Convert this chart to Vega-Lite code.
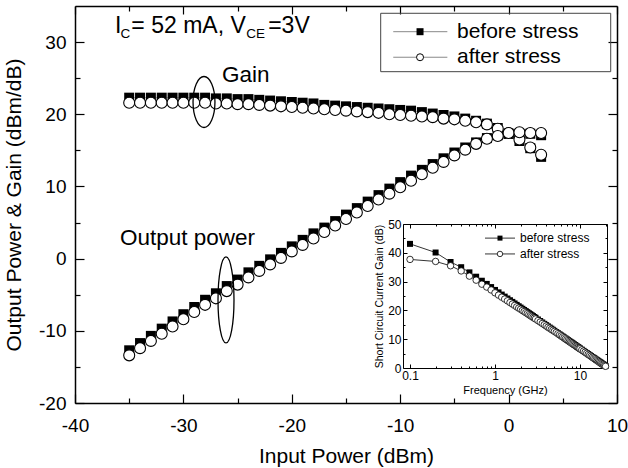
{
"$schema": "https://vega.github.io/schema/vega-lite/v6.json",
"width": 542, "height": 397,
"autosize": "none",
"padding": {"left": 75, "top": 6, "right": 11, "bottom": 65},
"background": "white",
"config": {
  "view": {"stroke": null},
  "axis": {"grid": false, "domainColor": "black", "tickColor": "black", "labelColor": "black", "titleColor": "black", "labelFont": "Liberation Sans", "titleFont": "Liberation Sans", "titleFontWeight": "normal", "labelOverlap": false, "labelFlush": false, "labelBound": false, "zindex": 1},
  "text": {"font": "Liberation Sans", "color": "black"}
},
"datasets": {
  "main": [
    {"x":-35,"y":22.3,"s":"b","q":"g"},{"x":-34,"y":22.3,"s":"b","q":"g"},{"x":-33,"y":22.3,"s":"b","q":"g"},{"x":-32,"y":22.3,"s":"b","q":"g"},{"x":-31,"y":22.3,"s":"b","q":"g"},{"x":-30,"y":22.3,"s":"b","q":"g"},{"x":-29,"y":22.3,"s":"b","q":"g"},{"x":-28,"y":22.3,"s":"b","q":"g"},{"x":-27,"y":22.2,"s":"b","q":"g"},{"x":-26,"y":22.2,"s":"b","q":"g"},{"x":-25,"y":22.1,"s":"b","q":"g"},{"x":-24,"y":22.1,"s":"b","q":"g"},{"x":-23,"y":22.0,"s":"b","q":"g"},{"x":-22,"y":21.9,"s":"b","q":"g"},{"x":-21,"y":21.8,"s":"b","q":"g"},{"x":-20,"y":21.7,"s":"b","q":"g"},{"x":-19,"y":21.6,"s":"b","q":"g"},{"x":-18,"y":21.5,"s":"b","q":"g"},{"x":-17,"y":21.3,"s":"b","q":"g"},{"x":-16,"y":21.2,"s":"b","q":"g"},{"x":-15,"y":21.1,"s":"b","q":"g"},{"x":-14,"y":21.0,"s":"b","q":"g"},{"x":-13,"y":20.9,"s":"b","q":"g"},{"x":-12,"y":20.8,"s":"b","q":"g"},{"x":-11,"y":20.7,"s":"b","q":"g"},{"x":-10,"y":20.6,"s":"b","q":"g"},{"x":-9,"y":20.5,"s":"b","q":"g"},{"x":-8,"y":20.3,"s":"b","q":"g"},{"x":-7,"y":20.1,"s":"b","q":"g"},{"x":-6,"y":19.9,"s":"b","q":"g"},{"x":-5,"y":19.7,"s":"b","q":"g"},{"x":-4,"y":19.4,"s":"b","q":"g"},{"x":-3,"y":19.1,"s":"b","q":"g"},{"x":-2,"y":18.7,"s":"b","q":"g"},{"x":-1,"y":18.1,"s":"b","q":"g"},{"x":0,"y":17.3,"s":"b","q":"g"},{"x":1,"y":16.3,"s":"b","q":"g"},{"x":2,"y":15.3,"s":"b","q":"g"},{"x":3,"y":14.1,"s":"b","q":"g"},
    {"x":-35,"y":21.6,"s":"a","q":"g"},{"x":-34,"y":21.6,"s":"a","q":"g"},{"x":-33,"y":21.6,"s":"a","q":"g"},{"x":-32,"y":21.6,"s":"a","q":"g"},{"x":-31,"y":21.6,"s":"a","q":"g"},{"x":-30,"y":21.6,"s":"a","q":"g"},{"x":-29,"y":21.6,"s":"a","q":"g"},{"x":-28,"y":21.6,"s":"a","q":"g"},{"x":-27,"y":21.5,"s":"a","q":"g"},{"x":-26,"y":21.5,"s":"a","q":"g"},{"x":-25,"y":21.4,"s":"a","q":"g"},{"x":-24,"y":21.4,"s":"a","q":"g"},{"x":-23,"y":21.3,"s":"a","q":"g"},{"x":-22,"y":21.2,"s":"a","q":"g"},{"x":-21,"y":21.1,"s":"a","q":"g"},{"x":-20,"y":21.0,"s":"a","q":"g"},{"x":-19,"y":20.9,"s":"a","q":"g"},{"x":-18,"y":20.8,"s":"a","q":"g"},{"x":-17,"y":20.7,"s":"a","q":"g"},{"x":-16,"y":20.6,"s":"a","q":"g"},{"x":-15,"y":20.5,"s":"a","q":"g"},{"x":-14,"y":20.4,"s":"a","q":"g"},{"x":-13,"y":20.3,"s":"a","q":"g"},{"x":-12,"y":20.2,"s":"a","q":"g"},{"x":-11,"y":20.0,"s":"a","q":"g"},{"x":-10,"y":19.9,"s":"a","q":"g"},{"x":-9,"y":19.8,"s":"a","q":"g"},{"x":-8,"y":19.7,"s":"a","q":"g"},{"x":-7,"y":19.6,"s":"a","q":"g"},{"x":-6,"y":19.4,"s":"a","q":"g"},{"x":-5,"y":19.3,"s":"a","q":"g"},{"x":-4,"y":19.1,"s":"a","q":"g"},{"x":-3,"y":18.9,"s":"a","q":"g"},{"x":-2,"y":18.6,"s":"a","q":"g"},{"x":-1,"y":18.0,"s":"a","q":"g"},{"x":0,"y":17.4,"s":"a","q":"g"},{"x":1,"y":16.5,"s":"a","q":"g"},{"x":2,"y":15.4,"s":"a","q":"g"},{"x":3,"y":14.4,"s":"a","q":"g"},
    {"x":-35,"y":-12.7,"s":"b","q":"o"},{"x":-34,"y":-11.7,"s":"b","q":"o"},{"x":-33,"y":-10.7,"s":"b","q":"o"},{"x":-32,"y":-9.7,"s":"b","q":"o"},{"x":-31,"y":-8.7,"s":"b","q":"o"},{"x":-30,"y":-7.7,"s":"b","q":"o"},{"x":-29,"y":-6.7,"s":"b","q":"o"},{"x":-28,"y":-5.7,"s":"b","q":"o"},{"x":-27,"y":-4.8,"s":"b","q":"o"},{"x":-26,"y":-3.8,"s":"b","q":"o"},{"x":-25,"y":-2.9,"s":"b","q":"o"},{"x":-24,"y":-1.9,"s":"b","q":"o"},{"x":-23,"y":-1.0,"s":"b","q":"o"},{"x":-22,"y":-0.1,"s":"b","q":"o"},{"x":-21,"y":0.8,"s":"b","q":"o"},{"x":-20,"y":1.7,"s":"b","q":"o"},{"x":-19,"y":2.6,"s":"b","q":"o"},{"x":-18,"y":3.5,"s":"b","q":"o"},{"x":-17,"y":4.3,"s":"b","q":"o"},{"x":-16,"y":5.2,"s":"b","q":"o"},{"x":-15,"y":6.1,"s":"b","q":"o"},{"x":-14,"y":7.0,"s":"b","q":"o"},{"x":-13,"y":7.9,"s":"b","q":"o"},{"x":-12,"y":8.8,"s":"b","q":"o"},{"x":-11,"y":9.7,"s":"b","q":"o"},{"x":-10,"y":10.6,"s":"b","q":"o"},{"x":-9,"y":11.5,"s":"b","q":"o"},{"x":-8,"y":12.3,"s":"b","q":"o"},{"x":-7,"y":13.1,"s":"b","q":"o"},{"x":-6,"y":13.9,"s":"b","q":"o"},{"x":-5,"y":14.7,"s":"b","q":"o"},{"x":-4,"y":15.4,"s":"b","q":"o"},{"x":-3,"y":16.1,"s":"b","q":"o"},{"x":-2,"y":16.7,"s":"b","q":"o"},{"x":-1,"y":17.1,"s":"b","q":"o"},{"x":0,"y":17.3,"s":"b","q":"o"},{"x":1,"y":17.3,"s":"b","q":"o"},{"x":2,"y":17.3,"s":"b","q":"o"},{"x":3,"y":17.1,"s":"b","q":"o"},
    {"x":-35,"y":-13.4,"s":"a","q":"o"},{"x":-34,"y":-12.4,"s":"a","q":"o"},{"x":-33,"y":-11.4,"s":"a","q":"o"},{"x":-32,"y":-10.4,"s":"a","q":"o"},{"x":-31,"y":-9.4,"s":"a","q":"o"},{"x":-30,"y":-8.4,"s":"a","q":"o"},{"x":-29,"y":-7.4,"s":"a","q":"o"},{"x":-28,"y":-6.4,"s":"a","q":"o"},{"x":-27,"y":-5.5,"s":"a","q":"o"},{"x":-26,"y":-4.5,"s":"a","q":"o"},{"x":-25,"y":-3.6,"s":"a","q":"o"},{"x":-24,"y":-2.6,"s":"a","q":"o"},{"x":-23,"y":-1.7,"s":"a","q":"o"},{"x":-22,"y":-0.8,"s":"a","q":"o"},{"x":-21,"y":0.1,"s":"a","q":"o"},{"x":-20,"y":1.0,"s":"a","q":"o"},{"x":-19,"y":1.9,"s":"a","q":"o"},{"x":-18,"y":2.8,"s":"a","q":"o"},{"x":-17,"y":3.7,"s":"a","q":"o"},{"x":-16,"y":4.6,"s":"a","q":"o"},{"x":-15,"y":5.5,"s":"a","q":"o"},{"x":-14,"y":6.4,"s":"a","q":"o"},{"x":-13,"y":7.3,"s":"a","q":"o"},{"x":-12,"y":8.2,"s":"a","q":"o"},{"x":-11,"y":9.0,"s":"a","q":"o"},{"x":-10,"y":9.9,"s":"a","q":"o"},{"x":-9,"y":10.8,"s":"a","q":"o"},{"x":-8,"y":11.7,"s":"a","q":"o"},{"x":-7,"y":12.6,"s":"a","q":"o"},{"x":-6,"y":13.4,"s":"a","q":"o"},{"x":-5,"y":14.3,"s":"a","q":"o"},{"x":-4,"y":15.1,"s":"a","q":"o"},{"x":-3,"y":15.9,"s":"a","q":"o"},{"x":-2,"y":16.6,"s":"a","q":"o"},{"x":-1,"y":17.0,"s":"a","q":"o"},{"x":0,"y":17.4,"s":"a","q":"o"},{"x":1,"y":17.5,"s":"a","q":"o"},{"x":2,"y":17.4,"s":"a","q":"o"},{"x":3,"y":17.4,"s":"a","q":"o"}
  ],
  "ann": [
    {"x":-36.31,"y":31.26,"t":"I","k":"big"},
    {"x":-34.8,"y":31.26,"t":"= 52 mA, V","k":"big"},
    {"x":-22.18,"y":31.26,"t":"=3V","k":"big"},
    {"x":-35.8,"y":30.57,"t":"C","k":"sub"},
    {"x":-24.2,"y":30.57,"t":"CE","k":"sub"},
    {"x":-26.44,"y":24.47,"t":"Gain","k":"mid"},
    {"x":-35.85,"y":1.9,"t":"Output power","k":"mid"},
    {"x":-4.76,"y":31.44,"t":"before stress","k":"leg"},
    {"x":-4.76,"y":27.9,"t":"after stress","k":"leg"}
  ],
  "ell": [
    {"x":-28.1,"y":21.7,"k":"gain"},
    {"x":-26.07,"y":-5.72,"k":"out"}
  ],
  "legline": [
    {"x":-10.64,"x2":-5.65,"y":31.44,"s":"b"},
    {"x":-10.64,"x2":-5.65,"y":27.9,"s":"a"}
  ],
  "legmark": [
    {"x":-8.17,"y":31.44,"s":"b"},
    {"x":-8.17,"y":27.9,"s":"a"}
  ],
  "legbox": [
    {"x":-11.8,"x2":9.42,"y":25.9,"y2":33.99}
  ],
  "ins": [
    {"f":0.1,"g":43.1,"s":"b"},{"f":0.2,"g":40.1,"s":"b"},{"f":0.3,"g":36.8,"s":"b"},{"f":0.4,"g":35.0,"s":"b"},{"f":0.5,"g":33.2,"s":"b"},{"f":0.6,"g":31.7,"s":"b"},{"f":0.7,"g":30.3,"s":"b"},{"f":0.8,"g":29.2,"s":"b"},{"f":0.9,"g":28.1,"s":"b"},{"f":1,"g":27.1,"s":"b"},{"f":1.1,"g":26.26,"s":"b"},{"f":1.2,"g":25.49,"s":"b"},{"f":1.3,"g":24.79,"s":"b"},{"f":1.4,"g":24.13,"s":"b"},{"f":1.5,"g":23.53,"s":"b"},{"f":1.6,"g":22.96,"s":"b"},{"f":1.7,"g":22.42,"s":"b"},{"f":1.8,"g":21.92,"s":"b"},{"f":1.9,"g":21.44,"s":"b"},{"f":2,"g":20.99,"s":"b"},{"f":2.1,"g":20.56,"s":"b"},{"f":2.2,"g":20.15,"s":"b"},{"f":2.3,"g":19.76,"s":"b"},{"f":2.4,"g":19.38,"s":"b"},{"f":2.5,"g":19.02,"s":"b"},{"f":2.6,"g":18.68,"s":"b"},{"f":2.7,"g":18.34,"s":"b"},{"f":2.8,"g":18.02,"s":"b"},{"f":2.9,"g":17.71,"s":"b"},{"f":3,"g":17.42,"s":"b"},{"f":3.2,"g":16.85,"s":"b"},{"f":3.4,"g":16.31,"s":"b"},{"f":3.6,"g":15.81,"s":"b"},{"f":3.8,"g":15.33,"s":"b"},{"f":4,"g":14.88,"s":"b"},{"f":4.2,"g":14.45,"s":"b"},{"f":4.4,"g":14.04,"s":"b"},{"f":4.6,"g":13.65,"s":"b"},{"f":4.8,"g":13.27,"s":"b"},{"f":5,"g":12.91,"s":"b"},{"f":5.25,"g":12.48,"s":"b"},{"f":5.5,"g":12.07,"s":"b"},{"f":5.75,"g":11.68,"s":"b"},{"f":6,"g":11.3,"s":"b"},{"f":6.25,"g":10.94,"s":"b"},{"f":6.5,"g":10.6,"s":"b"},{"f":6.75,"g":10.27,"s":"b"},{"f":7,"g":9.94,"s":"b"},{"f":7.25,"g":9.64,"s":"b"},{"f":7.5,"g":9.34,"s":"b"},{"f":7.75,"g":9.05,"s":"b"},{"f":8,"g":8.77,"s":"b"},{"f":8.25,"g":8.5,"s":"b"},{"f":8.5,"g":8.23,"s":"b"},{"f":8.75,"g":7.98,"s":"b"},{"f":9,"g":7.73,"s":"b"},{"f":9.25,"g":7.49,"s":"b"},{"f":9.5,"g":7.25,"s":"b"},{"f":9.75,"g":7.02,"s":"b"},{"f":10,"g":6.8,"s":"b"},{"f":10.5,"g":6.37,"s":"b"},{"f":11,"g":5.96,"s":"b"},{"f":11.5,"g":5.57,"s":"b"},{"f":12,"g":5.19,"s":"b"},{"f":12.5,"g":4.83,"s":"b"},{"f":13,"g":4.49,"s":"b"},{"f":13.5,"g":4.16,"s":"b"},{"f":14,"g":3.83,"s":"b"},{"f":14.5,"g":3.52,"s":"b"},{"f":15,"g":3.23,"s":"b"},{"f":15.5,"g":2.94,"s":"b"},{"f":16,"g":2.66,"s":"b"},{"f":16.5,"g":2.39,"s":"b"},{"f":17,"g":2.12,"s":"b"},{"f":17.5,"g":1.87,"s":"b"},{"f":18,"g":1.62,"s":"b"},{"f":18.5,"g":1.38,"s":"b"},{"f":19,"g":1.14,"s":"b"},{"f":19.5,"g":0.91,"s":"b"},{"f":20,"g":0.69,"s":"b"},
    {"f":0.1,"g":37.7,"s":"a"},{"f":0.2,"g":37.0,"s":"a"},{"f":0.3,"g":35.5,"s":"a"},{"f":0.4,"g":33.7,"s":"a"},{"f":0.5,"g":31.9,"s":"a"},{"f":0.6,"g":30.5,"s":"a"},{"f":0.7,"g":29.1,"s":"a"},{"f":0.8,"g":28.1,"s":"a"},{"f":0.9,"g":27.1,"s":"a"},{"f":1,"g":26.1,"s":"a"},{"f":1.1,"g":25.31,"s":"a"},{"f":1.2,"g":24.59,"s":"a"},{"f":1.3,"g":23.94,"s":"a"},{"f":1.4,"g":23.33,"s":"a"},{"f":1.5,"g":22.73,"s":"a"},{"f":1.6,"g":22.21,"s":"a"},{"f":1.7,"g":21.72,"s":"a"},{"f":1.8,"g":21.22,"s":"a"},{"f":1.9,"g":20.79,"s":"a"},{"f":2,"g":20.39,"s":"a"},{"f":2.1,"g":19.96,"s":"a"},{"f":2.2,"g":19.6,"s":"a"},{"f":2.3,"g":19.21,"s":"a"},{"f":2.4,"g":18.88,"s":"a"},{"f":2.5,"g":18.52,"s":"a"},{"f":2.6,"g":18.18,"s":"a"},{"f":2.7,"g":17.89,"s":"a"},{"f":2.8,"g":17.57,"s":"a"},{"f":2.9,"g":17.31,"s":"a"},{"f":3,"g":17.02,"s":"a"},{"f":3.2,"g":16.45,"s":"a"},{"f":3.4,"g":15.96,"s":"a"},{"f":3.6,"g":15.46,"s":"a"},{"f":3.8,"g":15.03,"s":"a"},{"f":4,"g":14.58,"s":"a"},{"f":4.2,"g":14.15,"s":"a"},{"f":4.4,"g":13.79,"s":"a"},{"f":4.6,"g":13.4,"s":"a"},{"f":4.8,"g":13.07,"s":"a"},{"f":5,"g":12.71,"s":"a"},{"f":5.25,"g":12.33,"s":"a"},{"f":5.5,"g":11.92,"s":"a"},{"f":5.75,"g":11.53,"s":"a"},{"f":6,"g":11.15,"s":"a"},{"f":6.25,"g":10.79,"s":"a"},{"f":6.5,"g":10.45,"s":"a"},{"f":6.75,"g":10.12,"s":"a"},{"f":7,"g":9.79,"s":"a"},{"f":7.25,"g":9.49,"s":"a"},{"f":7.5,"g":9.19,"s":"a"},{"f":7.75,"g":8.9,"s":"a"},{"f":8,"g":8.62,"s":"a"},{"f":8.25,"g":8.35,"s":"a"},{"f":8.5,"g":8.08,"s":"a"},{"f":8.75,"g":7.83,"s":"a"},{"f":9,"g":7.58,"s":"a"},{"f":9.25,"g":7.34,"s":"a"},{"f":9.5,"g":7.1,"s":"a"},{"f":9.75,"g":6.87,"s":"a"},{"f":10,"g":6.65,"s":"a"},{"f":10.5,"g":6.27,"s":"a"},{"f":11,"g":5.86,"s":"a"},{"f":11.5,"g":5.47,"s":"a"},{"f":12,"g":5.09,"s":"a"},{"f":12.5,"g":4.73,"s":"a"},{"f":13,"g":4.39,"s":"a"},{"f":13.5,"g":4.06,"s":"a"},{"f":14,"g":3.73,"s":"a"},{"f":14.5,"g":3.42,"s":"a"},{"f":15,"g":3.13,"s":"a"},{"f":15.5,"g":2.84,"s":"a"},{"f":16,"g":2.56,"s":"a"},{"f":16.5,"g":2.29,"s":"a"},{"f":17,"g":2.02,"s":"a"},{"f":17.5,"g":1.77,"s":"a"},{"f":18,"g":1.52,"s":"a"},{"f":18.5,"g":1.28,"s":"a"},{"f":19,"g":1.04,"s":"a"},{"f":19.5,"g":0.81,"s":"a"},{"f":20,"g":0.59,"s":"a"}
  ],
  "insleg": [
    {"f":0.763,"f2":1.72,"fm":1.145,"ft":1.97,"g":45.1,"s":"b","t":"before stress"},
    {"f":0.763,"f2":1.72,"fm":1.145,"ft":1.97,"g":39.6,"s":"a","t":"after stress"}
  ]
},
"layer": [
  {
    "encoding": {
      "x": {"field": "x", "type": "quantitative", "scale": {"domain": [-40, 10], "nice": false, "zero": false},
        "axis": {"orient": "bottom", "values": [-40,-35,-30,-25,-20,-15,-10,-5,0,5,10],
          "labelExpr": "datum.value % 10 === 0 ? '' + datum.value : ''",
          "tickSize": {"condition": {"test": "datum.value % 10 === 0", "value": -9}, "value": -5},
          "tickWidth": 1.2, "domainWidth": 1.5, "labelFontSize": 19, "labelPadding": 22,
          "title": "Input Power (dBm)", "titleFontSize": 21, "titlePadding": 6}},
      "y": {"field": "y", "type": "quantitative", "scale": {"domain": [-20, 35], "nice": false, "zero": false},
        "axis": {"orient": "left", "values": [-20,-15,-10,-5,0,5,10,15,20,25,30],
          "labelExpr": "datum.value % 10 === 0 ? '' + datum.value : ''",
          "tickSize": {"condition": {"test": "datum.value % 10 === 0", "value": -9}, "value": -5},
          "tickWidth": 1.2, "domainWidth": 1.5, "labelFontSize": 19, "labelPadding": 18,
          "title": "Output Power & Gain (dBm/dB)", "titleFontSize": 21, "titlePadding": 14}}
    },
    "layer": [
      {
        "layer": [
          {"data": {"name": "main"}, "transform": [{"filter": "datum.s == 'b'"}],
           "mark": {"type": "line", "color": "#777", "strokeWidth": 0.6},
           "encoding": {"detail": {"field": "q"}}},
          {"data": {"name": "main"}, "transform": [{"filter": "datum.s == 'a'"}],
           "mark": {"type": "line", "color": "#777", "strokeWidth": 0.6},
           "encoding": {"detail": {"field": "q"}}},
          {"data": {"name": "main"}, "transform": [{"filter": "datum.s == 'b'"}],
           "mark": {"type": "point", "shape": "square", "size": 100, "filled": true, "color": "black", "opacity": 1}},
          {"data": {"name": "main"}, "transform": [{"filter": "datum.s == 'a'"}],
           "mark": {"type": "point", "shape": "circle", "size": 121, "filled": true, "fill": "white", "stroke": "black", "strokeWidth": 1.1, "opacity": 1}},
          {"data": {"name": "ell"}, "transform": [{"filter": "datum.k == 'gain'"}],
           "mark": {"type": "point", "shape": "M -0.43 0 A 0.43 1 0 1 0 0.43 0 A 0.43 1 0 1 0 -0.43 0 Z", "size": 2601, "filled": false, "stroke": "black", "strokeWidth": 1.3, "opacity": 1}},
          {"data": {"name": "ell"}, "transform": [{"filter": "datum.k == 'out'"}],
           "mark": {"type": "point", "shape": "M -0.186 0 A 0.186 1 0 1 0 0.186 0 A 0.186 1 0 1 0 -0.186 0 Z", "size": 7396, "filled": false, "stroke": "black", "strokeWidth": 1.3, "opacity": 1}},
          {"data": {"name": "ann"}, "transform": [{"filter": "datum.k == 'big'"}],
           "mark": {"type": "text", "align": "left", "baseline": "alphabetic", "fontSize": 23},
           "encoding": {"text": {"field": "t"}}},
          {"data": {"name": "ann"}, "transform": [{"filter": "datum.k == 'sub'"}],
           "mark": {"type": "text", "align": "left", "baseline": "alphabetic", "fontSize": 13.5},
           "encoding": {"text": {"field": "t"}}},
          {"data": {"name": "ann"}, "transform": [{"filter": "datum.k == 'mid'"}],
           "mark": {"type": "text", "align": "left", "baseline": "alphabetic", "fontSize": 22.5},
           "encoding": {"text": {"field": "t"}}},
          {"data": {"name": "ann"}, "transform": [{"filter": "datum.k == 'leg'"}],
           "mark": {"type": "text", "align": "left", "baseline": "middle", "fontSize": 21},
           "encoding": {"text": {"field": "t"}}},
          {"data": {"name": "legline"},
           "mark": {"type": "rule", "color": "#888", "strokeWidth": 1},
           "encoding": {"x2": {"field": "x2"}}},
          {"data": {"name": "legmark"}, "transform": [{"filter": "datum.s == 'b'"}],
           "mark": {"type": "point", "shape": "square", "size": 49, "filled": true, "color": "black", "opacity": 1}},
          {"data": {"name": "legmark"}, "transform": [{"filter": "datum.s == 'a'"}],
           "mark": {"type": "point", "shape": "circle", "size": 49, "filled": true, "fill": "white", "stroke": "black", "strokeWidth": 1, "opacity": 1}}
        ]
      },
      {
        "data": {"name": "legbox"},
        "mark": {"type": "rect", "fill": "transparent", "stroke": "#444", "strokeWidth": 1},
        "encoding": {
          "x": {"field": "x", "type": "quantitative", "scale": {"domain": [-40, 10], "nice": false, "zero": false},
            "axis": {"orient": "top", "values": [-40,-35,-30,-25,-20,-15,-10,-5,0,5,10], "labels": false, "title": null,
              "tickSize": {"condition": {"test": "datum.value % 10 === 0", "value": -8}, "value": -5},
              "tickWidth": 1.2, "domainWidth": 1.5}},
          "x2": {"field": "x2"},
          "y": {"field": "y", "type": "quantitative", "scale": {"domain": [-20, 35], "nice": false, "zero": false},
            "axis": {"orient": "right", "values": [-20,-15,-10,-5,0,5,10,15,20,25,30], "labels": false, "title": null,
              "tickSize": {"condition": {"test": "datum.value % 10 === 0", "value": -9}, "value": -5},
              "tickWidth": 1.2, "domainWidth": 1.5}},
          "y2": {"field": "y2"}
        }
      }
    ],
    "resolve": {"axis": {"x": "independent", "y": "independent"}}
  },
  {
    "encoding": {
      "x": {"field": "f", "type": "quantitative", "scale": {"type": "log", "domain": [0.0827, 20.8], "range": [328, 532], "nice": false},
        "axis": {"orient": "bottom", "offset": -35, "values": [0.1,0.2,0.3,0.4,0.5,0.6,0.7,0.8,0.9,1,2,3,4,5,6,7,8,9,10,20],
          "labelExpr": "datum.value == 0.1 ? '0.1' : datum.value == 1 ? '1' : datum.value == 10 ? '10' : ''",
          "tickSize": {"condition": {"test": "datum.value == 0.1 || datum.value == 1 || datum.value == 10", "value": -4}, "value": -2},
          "tickWidth": 1, "domainWidth": 1, "labelFontSize": 12, "labelPadding": 6,
          "title": "Frequency (GHz)", "titleFontSize": 11, "titlePadding": 1}},
      "y": {"field": "g", "type": "quantitative", "scale": {"domain": [0, 50], "range": [362, 218], "nice": false, "zero": false},
        "axis": {"orient": "left", "offset": -328, "values": [0,5,10,15,20,25,30,35,40,45,50],
          "labelExpr": "datum.value % 10 === 0 ? '' + datum.value : ''",
          "tickSize": {"condition": {"test": "datum.value % 10 === 0", "value": -4}, "value": -2},
          "tickWidth": 1, "domainWidth": 1, "labelFontSize": 12, "labelPadding": 6,
          "title": "Short Circuit Current Gain (dB)", "titleFontSize": 10.5, "titlePadding": 3}}
    },
    "layer": [
      {
        "layer": [
          {"data": {"name": "ins"}, "transform": [{"filter": "datum.s == 'b'"}],
           "mark": {"type": "line", "color": "black", "strokeWidth": 0.8}},
          {"data": {"name": "ins"}, "transform": [{"filter": "datum.s == 'a'"}],
           "mark": {"type": "line", "color": "black", "strokeWidth": 0.8}},
          {"data": {"name": "ins"}, "transform": [{"filter": "datum.s == 'b'"}],
           "mark": {"type": "point", "shape": "square", "size": 36, "filled": true, "color": "black", "opacity": 1}},
          {"data": {"name": "ins"}, "transform": [{"filter": "datum.s == 'a'"}],
           "mark": {"type": "point", "shape": "circle", "size": 42, "filled": true, "fill": "white", "stroke": "black", "strokeWidth": 0.8, "opacity": 1}},
          {"data": {"name": "insleg"},
           "mark": {"type": "rule", "color": "black", "strokeWidth": 0.8},
           "encoding": {"x2": {"field": "f2"}}},
          {"data": {"name": "insleg"}, "transform": [{"filter": "datum.s == 'b'"}],
           "mark": {"type": "point", "shape": "square", "size": 25, "filled": true, "color": "black", "opacity": 1},
           "encoding": {"x": {"field": "fm", "type": "quantitative"}}},
          {"data": {"name": "insleg"}, "transform": [{"filter": "datum.s == 'a'"}],
           "mark": {"type": "point", "shape": "circle", "size": 30, "filled": true, "fill": "white", "stroke": "black", "strokeWidth": 0.8, "opacity": 1},
           "encoding": {"x": {"field": "fm", "type": "quantitative"}}}
        ]
      },
      {
        "data": {"name": "insleg"},
        "mark": {"type": "text", "align": "left", "baseline": "middle", "fontSize": 12},
        "encoding": {
          "text": {"field": "t"},
          "x": {"field": "ft", "type": "quantitative", "scale": {"type": "log", "domain": [0.0827, 20.8], "range": [328, 532], "nice": false},
            "axis": {"orient": "top", "offset": -218, "values": [0.1,0.2,0.3,0.4,0.5,0.6,0.7,0.8,0.9,1,2,3,4,5,6,7,8,9,10,20], "labels": false, "title": null,
              "tickSize": {"condition": {"test": "datum.value == 0.1 || datum.value == 1 || datum.value == 10", "value": -4}, "value": -2},
              "tickWidth": 1, "domainWidth": 1}},
          "y": {"field": "g", "type": "quantitative", "scale": {"domain": [0, 50], "range": [362, 218], "nice": false, "zero": false},
            "axis": {"orient": "right", "offset": -10, "values": [0,5,10,15,20,25,30,35,40,45,50], "labels": false, "title": null,
              "tickSize": {"condition": {"test": "datum.value % 10 === 0", "value": -4}, "value": -2},
              "tickWidth": 1, "domainWidth": 1}}
        }
      }
    ],
    "resolve": {"axis": {"x": "independent", "y": "independent"}}
  }
],
"resolve": {"scale": {"x": "independent", "y": "independent"}}
}
